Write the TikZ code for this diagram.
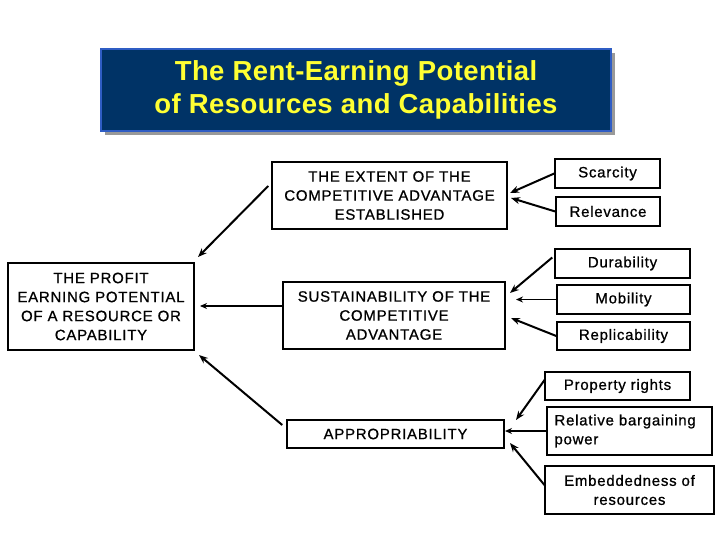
\documentclass[tikz,border=0pt]{standalone}
\usepackage{fontspec}
\setmainfont{Liberation Sans}
\newfontfamily\boxfont[LetterSpace=5,FakeBold=0.8]{Liberation Sans}
\newfontfamily\titlefont[LetterSpace=1.5]{Liberation Sans}
\usetikzlibrary{arrows.meta,calc,shadows}
\definecolor{titlefill}{HTML}{003366}
\definecolor{titleedge}{HTML}{2F5DC4}
\definecolor{titletext}{HTML}{FFFF33}
\begin{document}
\begin{tikzpicture}[x=1pt,y=-1pt,
  box/.style={draw=black, line width=1.5pt, inner sep=0pt, align=center,
    font=\boxfont\fontsize{15}{19}\selectfont},
  arr/.style={-{Stealth[length=9pt,width=7pt]}, line width=2pt},
  thinarr/.style={-{Stealth[length=7pt,width=6pt]}, line width=1.3pt},
  titlebox/.style={draw=titleedge, line width=2pt, fill=titlefill, inner sep=0pt,
    align=center, text=titletext,
    font=\titlefont\bfseries\fontsize{27.5}{33}\selectfont,
    drop shadow={shadow xshift=4pt, shadow yshift=-4pt, fill=black!40, opacity=1}}]
\useasboundingbox (0,0) rectangle (720,540);
\fill[white] (0,0) rectangle (720,540);

% title
\node[titlebox, minimum width=510pt, minimum height=82pt] (title) at (356,90)
  {The Rent-Earning Potential\\of Resources and Capabilities};

% main boxes
\node[box, minimum width=186pt, minimum height=87pt] (profit) at (101,306.5)
  {THE PROFIT\\EARNING POTENTIAL\\OF A RESOURCE OR\\CAPABILITY};
\node[box, minimum width=235pt, minimum height=67pt] (ext) at (389.5,195.5)
  {THE EXTENT OF THE\\COMPETITIVE ADVANTAGE\\ESTABLISHED};
\node[box, minimum width=222pt, minimum height=67pt] (sus) at (394,315.5)
  {SUSTAINABILITY OF THE\\COMPETITIVE\\ADVANTAGE};
\node[box, minimum width=217pt, minimum height=28pt] (app) at (395.5,434)
  {APPROPRIABILITY};

% small boxes
\node[box, minimum width=105pt, minimum height=29pt] (scar) at (607.5,173.5) {Scarcity};
\node[box, minimum width=104pt, minimum height=29pt] (relv) at (608,211.5) {Relevance};
\node[box, minimum width=135pt, minimum height=29pt] (dur) at (622.5,263.5) {Durability};
\node[box, minimum width=133pt, minimum height=29pt] (mob) at (623.5,299.5) {Mobility};
\node[box, minimum width=133pt, minimum height=28pt] (rep) at (623.5,336) {Replicability};
\node[box, minimum width=145pt, minimum height=28pt] (prop) at (617.5,386) {Property rights};
\node[box, minimum width=165pt, minimum height=48pt, text width=150pt, align=left] (barg) at (629.5,431)
  {Relative bargaining\\power};
\node[box, minimum width=169pt, minimum height=48pt] (emb) at (629.5,490)
  {Embeddedness of\\resources};

% arrow tips
\coordinate (pIn1) at (198,257);
\coordinate (pIn2) at (200,306);
\coordinate (pIn3) at (199,355);
\coordinate (eIn1) at (510,193);
\coordinate (eIn2) at (511,198);
\coordinate (sIn1) at (510,293);
\coordinate (sIn2) at (516,299.5);
\coordinate (sIn3) at (511,318);
\coordinate (aIn1) at (516,420);
\coordinate (aIn2) at (505,431);
\coordinate (aIn3) at (510,443);

% connectors into profit box
\draw[arr] ($(ext.west)+(-3,-9.5)$) -- (pIn1);
\draw[thinarr] ($(sus.west)+(0,-9.5)$) -- (pIn2);
\draw[arr] ($(app.west)+(-4,-9)$) -- (pIn3);

% connectors into extent
\draw[arr] (scar.west) -- (eIn1);
\draw[arr] (relv.west) -- (eIn2);

% connectors into sustainability
\draw[arr] ($(dur.west)+(-2,-6)$) -- (sIn1);
\draw[thinarr] (mob.west) -- (sIn2);
\draw[arr] (rep.west) -- (sIn3);

% connectors into appropriability
\draw[arr] ($(prop.west)+(1,-7)$) -- (aIn1);
\draw[thinarr] (barg.west) -- (aIn2);
\draw[arr] ($(emb.west)+(1,-4)$) -- (aIn3);
\end{tikzpicture}
\end{document}
